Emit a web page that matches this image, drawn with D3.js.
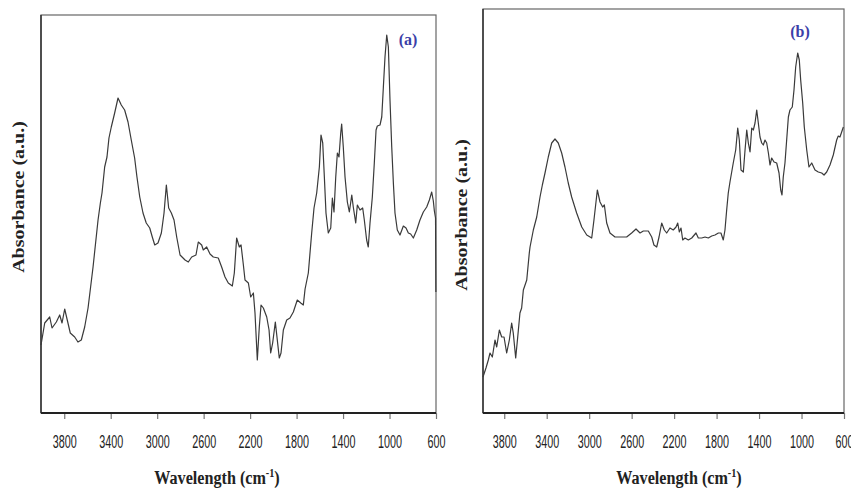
<!DOCTYPE html>
<html>
<head>
<meta charset="utf-8">
<script src="https://cdn.jsdelivr.net/npm/d3@7"></script>
<style>
  body { margin: 0; background: #fff; }
</style>
</head>
<body>
<div id="chart"></div>
<script>
// spectrum (a)
const waveA = [4000,3968,3925,3905,3868,3839,3819,3796,3774,3748,
  3710,3682,3653,3624,3595,3552,3509,3489,3475,3452,
  3432,3415,3395,3366,3337,3309,3280,3251,3223,3194,
  3174,3150,3122,3094,3064,3042,3021,2993,2964,2941,
  2921,2901,2878,2855,2832,2803,2760,2732,2703,2666,
  2646,2617,2603,2574,2545,2517,2474,2445,2416,2388,
  2353,2336,2316,2293,2278,2258,2244,2215,2195,2172,
  2158,2138,2121,2106,2086,2057,2037,2023,2006,1983,
  1966,1949,1934,1914,1885,1857,1828,1794,1764,1742,
  1727,1699,1670,1650,1627,1604,1590,1575,1561,1547,
  1527,1506,1492,1478,1463,1449,1435,1420,1412,1398,
  1383,1363,1346,1325,1312,1291,1277,1254,1231,1217,
  1197,1183,1168,1148,1131,1116,1105,1082,1067,1053,
  1039,1024,1010,996,981,967,953,933,910,881,
  858,838,818,795,766,738,709,680,657,637,
  623,614,604,601];
const absA = [0.68,0.90,0.96,0.85,0.91,0.98,0.90,1.04,0.93,0.80,
  0.76,0.71,0.73,0.86,1.05,1.46,1.93,2.10,2.20,2.46,
  2.56,2.75,2.86,3.00,3.15,3.08,3.03,2.91,2.73,2.55,
  2.36,2.16,2.00,1.90,1.85,1.76,1.68,1.70,1.80,2.00,
  2.28,2.05,2.00,1.93,1.76,1.58,1.53,1.51,1.56,1.58,
  1.71,1.68,1.63,1.66,1.59,1.56,1.55,1.46,1.36,1.30,
  1.27,1.40,1.75,1.66,1.68,1.48,1.33,1.30,1.16,1.20,
  1.00,0.53,0.86,1.08,1.05,0.96,0.83,0.60,0.70,0.91,
  0.73,0.55,0.60,0.83,0.93,0.95,1.01,1.13,1.10,1.08,
  1.24,1.40,1.80,2.05,2.20,2.46,2.78,2.70,2.36,2.00,
  1.80,1.85,2.15,2.01,2.36,2.60,2.56,2.80,2.89,2.66,
  2.36,2.11,2.01,2.18,2.06,1.90,2.08,2.03,2.05,1.93,
  1.73,1.66,1.90,2.16,2.50,2.83,2.87,2.88,2.96,3.26,
  3.56,3.78,3.66,3.13,2.66,2.30,2.00,1.83,1.78,1.87,
  1.85,1.80,1.79,1.75,1.83,1.93,2.01,2.06,2.13,2.21,
  2.12,2.02,1.95,1.21];

// spectrum (b)
const waveB = [4000,3972,3950,3934,3912,3887,3871,3846,3824,3802,
  3777,3752,3730,3715,3692,3673,3652,3636,3620,3588,
  3564,3557,3526,3494,3463,3441,3416,3385,3353,3322,
  3291,3259,3228,3197,3165,3118,3070,3023,2976,2955,
  2923,2898,2873,2857,2835,2804,2757,2726,2700,2647,
  2600,2559,2521,2490,2443,2411,2390,2364,2342,2317,
  2292,2270,2239,2208,2182,2166,2151,2135,2119,2098,
  2066,2034,1994,1972,1940,1909,1878,1846,1815,1783,
  1759,1737,1721,1705,1690,1674,1643,1620,1601,1586,
  1570,1548,1532,1516,1501,1485,1469,1454,1438,1422,
  1407,1391,1375,1360,1344,1328,1312,1297,1281,1259,
  1234,1212,1196,1184,1172,1156,1140,1124,1109,1087,
  1071,1055,1036,1021,1008,989,974,951,930,904,
  873,842,810,788,763,732,701,669,654,638,
  622,606];
const absB = [0.36,0.45,0.53,0.60,0.56,0.73,0.66,0.83,0.76,0.76,
  0.60,0.73,0.90,0.80,0.55,0.76,1.00,1.05,1.23,1.33,
  1.60,1.66,1.83,1.96,2.16,2.28,2.40,2.56,2.70,2.74,
  2.70,2.60,2.46,2.30,2.16,2.00,1.86,1.78,1.75,1.93,
  2.23,2.11,2.06,2.08,1.90,1.80,1.76,1.76,1.76,1.76,
  1.80,1.84,1.80,1.82,1.82,1.76,1.68,1.66,1.76,1.90,
  1.83,1.80,1.85,1.83,1.86,1.90,1.81,1.85,1.73,1.75,
  1.73,1.75,1.80,1.75,1.75,1.76,1.75,1.77,1.78,1.80,
  1.80,1.73,1.83,2.03,2.20,2.31,2.50,2.63,2.85,2.73,
  2.43,2.41,2.63,2.83,2.70,2.61,2.85,2.83,2.90,3.03,
  2.90,2.76,2.70,2.68,2.73,2.70,2.60,2.48,2.55,2.51,
  2.50,2.40,2.23,2.18,2.36,2.50,2.73,2.96,3.03,3.06,
  3.23,3.46,3.60,3.53,3.33,3.10,2.86,2.63,2.46,2.50,
  2.43,2.41,2.40,2.38,2.41,2.48,2.58,2.73,2.77,2.76,
  2.81,2.86];

const tickValues = [3800,3400,3000,2600,2200,1800,1400,1000,600];
const xDomain = [4000, 600];
const xTitle = 'Wavelength (cm';
const xTitleSup = '-1';
const yTitle = 'Absorbance (a.u.)';

let svg = d3.select('#chart')
    .append('svg')
    .attr('width', 851)
    .attr('height', 488);

let panels = [
    {wave: waveA, abs: absA, yMax: 3.98, tag: '(a)',
     left: 41, right: 436, top: 15, bottom: 413,
     tagX: 408, tagY: 45, titleX: 217, yTitleX: 19, yTitleY: 197},
    {wave: waveB, abs: absB, yMax: 4.04, tag: '(b)',
     left: 483, right: 844, top: 9, bottom: 413,
     tagX: 800, tagY: 37, titleX: 679, yTitleX: 462, yTitleY: 215}
];

panels.forEach(function (p) {
    let x = d3.scaleLinear().domain(xDomain).range([p.left, p.right]);
    let y = d3.scaleLinear().domain([0, p.yMax]).range([p.bottom, p.top]);

    let g = svg.append('g');

    // frame
    g.append('rect')
        .attr('x', p.left).attr('y', p.top)
        .attr('width', p.right - p.left).attr('height', p.bottom - p.top)
        .attr('fill', 'none').attr('stroke', '#666').attr('stroke-width', 1.2);
    g.append('line')
        .attr('x1', p.left).attr('x2', p.left).attr('y1', p.top).attr('y2', p.bottom)
        .attr('stroke', '#333').attr('stroke-width', 1.5);

    // x axis
    let xAxisCall = d3.axisBottom(x).tickValues(tickValues).tickSize(6).tickFormat(d3.format('d'));
    let ax = g.append('g').attr('transform', 'translate(0,' + p.bottom + ')').call(xAxisCall);
    ax.select('.domain').remove();
    ax.selectAll('.tick line').attr('stroke', '#777').attr('stroke-width', 1.2);
    ax.selectAll('.tick text')
        .attr('y', 35).attr('dy', 0)
        .attr('transform', 'scale(0.6,1)')
        .attr('font-family', 'Liberation Sans, Arial, sans-serif')
        .attr('font-size', '18px')
        .attr('fill', '#222');
    g.append('line')
        .attr('x1', p.left).attr('x2', p.right).attr('y1', p.bottom).attr('y2', p.bottom)
        .attr('stroke', '#222').attr('stroke-width', 2);

    // spectrum
    let line = d3.line()
        .x(function (d, i) { return x(p.wave[i]); })
        .y(function (d) { return y(d); });
    g.append('path')
        .datum(p.abs)
        .attr('d', line)
        .attr('fill', 'none')
        .attr('stroke', '#3a3a3a')
        .attr('stroke-width', 1.2)
        .attr('stroke-linejoin', 'round');

    // panel tag
    g.append('text')
        .attr('x', p.tagX).attr('y', p.tagY)
        .attr('text-anchor', 'middle')
        .attr('font-family', 'Liberation Serif, Times New Roman, serif')
        .attr('font-weight', 'bold')
        .attr('font-size', '16px')
        .attr('fill', '#3b3fa8')
        .text(p.tag);

    // x title
    let xt = g.append('text')
        .attr('transform', 'translate(' + p.titleX + ',484) scale(0.85,1)')
        .attr('text-anchor', 'middle')
        .attr('font-family', 'Liberation Serif, Times New Roman, serif')
        .attr('font-weight', 'bold')
        .attr('font-size', '19px')
        .attr('fill', '#222');
    xt.append('tspan').text(xTitle);
    xt.append('tspan').attr('dy', -7).attr('font-size', '12px').text(xTitleSup);
    xt.append('tspan').attr('dy', 7).text(')');

    // y title
    g.append('text')
        .attr('transform', 'translate(' + p.yTitleX + ',' + p.yTitleY + ') scale(0.8,1) rotate(-90)')
        .attr('text-anchor', 'middle')
        .attr('dominant-baseline', 'central')
        .attr('font-family', 'Liberation Serif, Times New Roman, serif')
        .attr('font-weight', 'bold')
        .attr('font-size', '20px')
        .attr('fill', '#222')
        .text(yTitle);
});
</script>
</body>
</html>
